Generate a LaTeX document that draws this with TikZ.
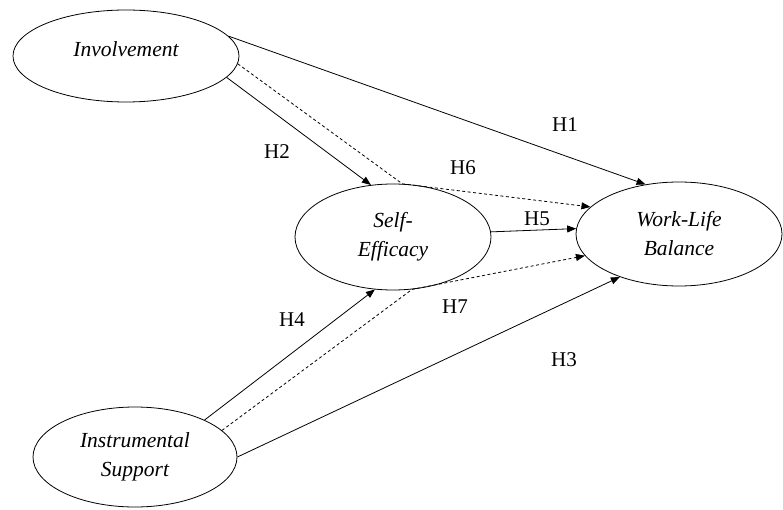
\documentclass[tikz,border=0pt]{standalone}
\usepackage{fontspec}
\setmainfont{Liberation Serif}
\usetikzlibrary{shapes.geometric,arrows.meta}

\tikzset{
	construct/.style={draw,ellipse,line width=0.8pt,inner sep=0pt,font=\fontsize{21.5}{29}\selectfont\itshape,align=center},
	path line/.style={->,line width=0.8pt},
	dash line/.style={->,line width=0.8pt,dash pattern=on 3pt off 2.5pt},
	hlabel/.style={font=\fontsize{21}{24}\selectfont}
}

\begin{document}
\begin{tikzpicture}[x=1pt,y=1pt,>={Triangle[length=9pt,width=7pt]}]
	\useasboundingbox (0,0) rectangle (783,509);

	% constructs
	\node[construct,minimum width=226,minimum height=92,label={[construct,draw=none,yshift=7pt]center:Involvement}] (inv) at (126,453) {};
	\node[construct,minimum width=196,minimum height=106] (se) at (393,272) {Self-\\Efficacy};
	\node[construct,minimum width=206,minimum height=104] (wlb) at (679,275) {Work-Life\\Balance};
	\node[construct,minimum width=204,minimum height=100] (is) at (135,52) {Instrumental\\Support};

	% direct links
	\draw[path line] (inv.11) -- (wlb.124); % H1
	\draw[path line] (inv.-12) -- (se.113); % H2
	\draw[path line] (is.0) -- (wlb.216); % H3
	\draw[path line] (is.28) -- (se.251); % H4
	\draw[path line] (se.3) -- (wlb.177); % H5

	% mediated links
	\draw[dash line] (inv.-4) -- (se.80) -- (wlb.163); % H6
	\draw[dash line] (is.17) -- (se.-70) -- (wlb.193); % H7

	% label
	\node[hlabel] (h1) at (565,384) {H1};
	\node[hlabel] (h2) at (277,357) {H2};
	\node[hlabel] (h3) at (564,149) {H3};
	\node[hlabel] (h4) at (292,189) {H4};
	\node[hlabel] (h5) at (537,290) {H5};
	\node[hlabel] (h6) at (463,341) {H6};
	\node[hlabel] (h7) at (455,202) {H7};

\end{tikzpicture}
\end{document}
